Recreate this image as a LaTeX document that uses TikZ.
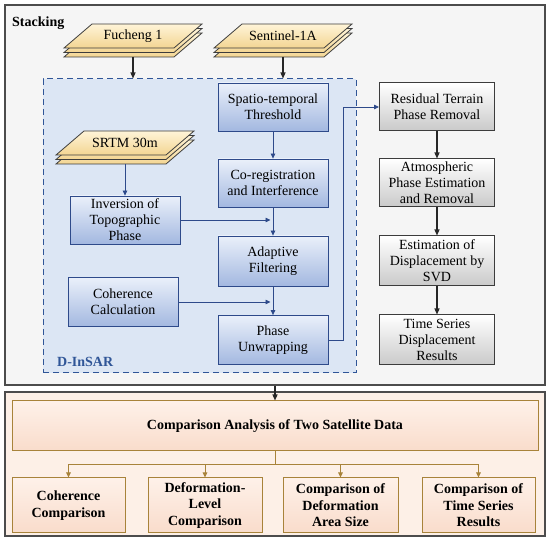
\documentclass[tikz,border=0pt]{standalone}
\usepackage{fontspec}
\setmainfont{Liberation Serif}
\usetikzlibrary{arrows.meta}
\definecolor{bluedark}{HTML}{2E4A8A}
\definecolor{bluetop}{HTML}{EAF0FA}
\definecolor{bluebot}{HTML}{A3B8E0}
\definecolor{bluefill}{HTML}{DCE6F4}
\definecolor{bluedash}{HTML}{2F5597}
\definecolor{graydark}{HTML}{3C3C3C}
\definecolor{gold}{HTML}{A8833A}
\definecolor{peachbg}{HTML}{FDF0E7}
\definecolor{peachtop}{HTML}{FEF1E9}
\definecolor{peachbot}{HTML}{F9DCCB}
\definecolor{partop}{HTML}{FFF4D8}
\definecolor{parbot}{HTML}{F3D592}
\newcommand{\stackpar}[4]{%
  \foreach \off in {9,4.5,0}{%
    \draw[draw=graydark, line width=0.8pt, top color=partop, bottom color=parbot]
      (#1-41,#2-12+\off) -- (#1+69,#2-12+\off) -- (#1+41,#2+12+\off) -- (#1-69,#2+12+\off) -- cycle;
  }
  \node (#3) at (#1,#2) {#4};
  \coordinate (#3-bot) at (#1,#2+21);
}
\begin{document}
\begin{tikzpicture}[x=1pt,y=-1pt, font=\fontsize{14}{16}\selectfont,
  bluebox/.style={draw=bluedark, line width=0.8pt, top color=bluetop, bottom color=bluebot, minimum width=110pt, minimum height=48pt, align=center, inner sep=1pt},
  graybox/.style={draw=graydark, line width=1pt, top color=white, bottom color=gray!42, minimum width=115pt, minimum height=48pt, align=center, inner sep=1pt},
  cmpbox/.style={draw=gold, line width=1pt, top color=peachtop, bottom color=peachbot, align=center, font=\bfseries\fontsize{14}{16.5}\selectfont, minimum height=55pt, inner sep=1pt},
  barrow/.style={-{Triangle[length=5pt,width=4.5pt]}, draw=bluedark, line width=0.8pt},
  karrow/.style={-{Triangle[length=6pt,width=5pt]}, draw=black!85, line width=1.2pt},
  garrow/.style={-{Triangle[length=5pt,width=4.5pt]}, draw=gold, line width=1pt}]
\useasboundingbox (0,0) rectangle (550,545);
% outer frames
\node[draw=black!70, line width=1.3pt, fill=gray!8, minimum width=540pt, minimum height=380pt, inner sep=0pt] (stackbox) at (275,195) {};
\node[anchor=north west, font=\bfseries\fontsize{14}{16}\selectfont, inner sep=0pt] (stacklabel) at (12,17) {Stacking};
\node[draw=black!70, line width=1.3pt, fill=peachbg, minimum width=540pt, minimum height=144pt, inner sep=0pt] (bottombox) at (275,464) {};
% D-InSAR region
\node[draw=bluedash, dash pattern=on 6pt off 4pt, line width=1pt, fill=bluefill, minimum width=313pt, minimum height=294pt, inner sep=0pt] (dinsar) at (199.5,226) {};
\node[anchor=west, text=bluedash, font=\bfseries\fontsize{14}{16}\selectfont, inner sep=0pt] (dlabel) at (57,362) {D-InSAR};
% data stacks
\stackpar{133}{36}{fuch}{Fucheng 1}
\stackpar{283}{36}{sent}{Sentinel-1A}
\stackpar{125}{143}{srtm}{SRTM 30m}
% blue boxes
\node[bluebox] (spatio) at (273,107) {Spatio-temporal\\Threshold};
\node[bluebox] (coreg) at (273,183) {Co-registration\\and Interference};
\node[bluebox, minimum height=50pt] (adapt) at (273,261) {Adaptive\\Filtering};
\node[bluebox, minimum height=49pt] (phase) at (273,340) {Phase\\Unwrapping};
\node[bluebox] (inv) at (125,220) {Inversion of\\Topographic\\Phase};
\node[bluebox, minimum height=49pt] (coh) at (123,302) {Coherence\\Calculation};
% gray boxes
\node[graybox] (resid) at (437,107) {Residual Terrain\\Phase Removal};
\node[graybox] (atmos) at (437,183) {Atmospheric\\Phase Estimation\\and Removal};
\node[graybox, minimum height=50pt] (svd) at (437,261) {Estimation of\\Displacement by\\SVD};
\node[graybox, minimum height=50pt] (tsr) at (437,340) {Time Series\\Displacement\\Results};
% comparison boxes
\node[cmpbox, minimum width=526pt, minimum height=50pt] (comp) at (275,426) {Comparison Analysis of Two Satellite Data};
\node[cmpbox, minimum width=113pt] (c1) at (68.5,505.5) {Coherence\\Comparison};
\node[cmpbox, minimum width=114pt] (c2) at (205,505.5) {Deformation-\\Level\\Comparison};
\node[cmpbox, minimum width=115pt] (c3) at (340.5,505.5) {Comparison of\\Deformation\\Area Size};
\node[cmpbox, minimum width=113pt] (c4) at (478.5,505.5) {Comparison of\\Time Series\\Results};
% connectors
\draw[karrow] (fuch-bot) -- (fuch-bot |- dinsar.north);
\draw[karrow] (sent-bot) -- (sent-bot |- dinsar.north);
\draw[barrow] (spatio.south) -- (coreg.north);
\draw[barrow] (coreg.south) -- (adapt.north);
\draw[barrow] (adapt.south) -- (phase.north);
\draw[barrow] (srtm-bot) -- (srtm-bot |- inv.north);
\draw[barrow, shorten >=2.5pt] (inv.east) -- (inv.east -| coreg.south);
\draw[barrow, shorten >=2.5pt] (coh.east) -- (coh.east -| adapt.south);
\draw[barrow] (phase.east) -- ([xshift=15pt]phase.east) |- (resid.west);
\draw[karrow] (resid.south) -- (atmos.north);
\draw[karrow] (atmos.south) -- (svd.north);
\draw[karrow] (svd.south) -- (tsr.north);
\draw[karrow] (stackbox.south) -- (comp.north);
\coordinate (bus) at (275,465);
\draw[gold, line width=1pt] (comp.south) -- (bus);
\draw[garrow] (bus) -| (c1.north);
\draw[garrow] (bus) -| (c2.north);
\draw[garrow] (bus) -| (c3.north);
\draw[garrow] (bus) -| (c4.north);
\end{tikzpicture}
\end{document}
